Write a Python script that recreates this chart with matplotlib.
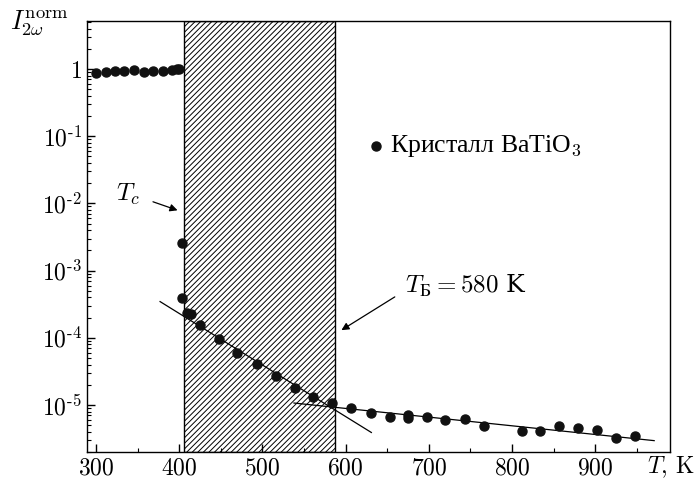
import matplotlib
matplotlib.use("Agg")
import matplotlib.pyplot as plt
from matplotlib.ticker import LogLocator, MultipleLocator, FixedLocator

plt.rcParams['mathtext.fontset'] = 'cm'
plt.rcParams['font.family'] = ['DejaVu Serif']
plt.rcParams['font.size'] = 17
plt.rcParams['hatch.linewidth'] = 0.7

# measured points, T in K
T = [300, 312, 323, 334, 346, 358, 369, 380, 391, 397, 400,
     403, 403, 409, 414, 425, 448, 470, 493, 516, 539, 561, 584,
     607, 630, 653, 675, 675, 698, 720, 743, 766, 812, 834, 857, 880, 902, 925, 948]
I = [0.86, 0.90, 0.92, 0.94, 0.98, 0.90, 0.92, 0.93, 0.97, 1.01, 1.01,
     2.6e-3, 3.9e-4, 2.33e-4, 2.25e-4, 1.56e-4, 9.7e-5, 6.0e-5, 4.1e-5, 2.7e-5, 1.8e-5, 1.33e-5, 1.07e-5,
     9.1e-6, 7.7e-6, 6.6e-6, 7.2e-6, 6.3e-6, 6.6e-6, 6.0e-6, 6.1e-6, 4.9e-6, 4.1e-6, 4.1e-6, 4.8e-6, 4.5e-6, 4.3e-6, 3.2e-6, 3.5e-6]

# fitted straight lines (end points)
fit1_T = [377, 631]
fit1_I = [3.46e-4, 3.9e-6]
fit2_T = [538, 971]
fit2_I = [1.07e-5, 2.95e-6]

T_c = 406
T_B = 587

yticks = [1e-5, 1e-4, 1e-3, 1e-2, 1e-1, 1]
ylabels = [r'$10^{\text{-5}}$', r'$10^{\text{-4}}$', r'$10^{\text{-3}}$',
           r'$10^{\text{-2}}$', r'$10^{\text{-1}}$', r'$1$']
xticks = [300, 400, 500, 600, 700, 800, 900]

fig = plt.figure(figsize=(6.95, 4.86), dpi=100)
ax = fig.add_axes([0.125, 0.070, 0.839, 0.887])

ax.axvspan(T_c, T_B, facecolor='white', edgecolor='black', hatch='//////', lw=1.0, zorder=1)

ax.plot(fit1_T, fit1_I, color='black', lw=0.9, zorder=2)
ax.plot(fit2_T, fit2_I, color='black', lw=0.9, zorder=2)
ax.plot(T, I, 'o', color='#111111', ms=6.5, zorder=3)

ax.set_yscale('log')
ax.set_xlim(289, 990)
ax.set_ylim(2.0e-6, 5.2)

ax.xaxis.set_minor_locator(MultipleLocator(50))
ax.yaxis.set_major_locator(FixedLocator(yticks))
ax.yaxis.set_minor_locator(LogLocator(base=10, subs=range(2, 10), numticks=20))
ax.set_yticklabels(ylabels)
ax.set_xticks(xticks)
ax.set_xticklabels(['$%d$' % t for t in xticks])
ax.tick_params(which='both', direction='in', top=False, right=False, labelsize=17)
ax.tick_params(which='major', length=6, width=1)
ax.tick_params(which='minor', length=3, width=0.8)
for s in ax.spines.values():
    s.set_linewidth(1.0)

fig.text(0.015, 0.952, r'$I_{2\omega}^{\mathrm{norm}}$', fontsize=19, va='center')
fig.text(0.999, 0.012, r'$T$, K', fontsize=17, ha='right', va='bottom',
         family=['cmr10', 'DejaVu Serif'])

# legend entry
ax.plot([637], [0.071], 'o', color='#111111', ms=6.5)
ax.text(654, 0.071, 'Кристалл BaTiO$_3$', fontsize=18.5, va='center',
        family=['Liberation Serif'])

ax.annotate(r'$T_c$', xy=(398, 7.9e-3), xytext=(338, 1.35e-2), fontsize=18,
            ha='center', va='center',
            arrowprops=dict(arrowstyle='-|>', color='black', lw=0.9,
                            shrinkA=8, shrinkB=0, mutation_scale=11,
                            relpos=(1, 0.4)))
ax.annotate(r'$T_{\mathrm{Б}} = 580$ K', xy=(595, 1.3e-4), xytext=(671, 6.0e-4), fontsize=18,
            ha='left', va='center',
            arrowprops=dict(arrowstyle='-|>', color='black', lw=0.9,
                            shrinkA=6, shrinkB=0, mutation_scale=11,
                            relpos=(0, 0.3)))

fig.savefig('out.png', dpi=100)
